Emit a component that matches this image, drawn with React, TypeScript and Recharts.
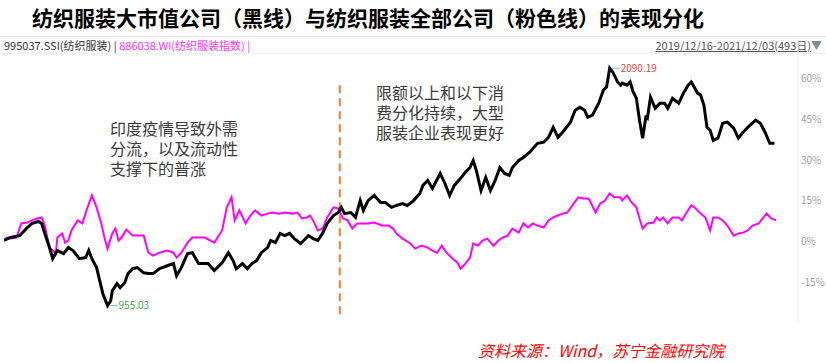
import { LineChart, Line, XAxis, YAxis, ReferenceLine, ReferenceDot } from "recharts";

// textile large caps (black) vs whole textile sector (pink), % change since 2019/12/16
const bigDays = [
  0, 4, 10, 15, 18, 22, 24, 26, 29, 31, 34, 38, 41, 44, 48, 52, 54, 56, 59, 61, 63, 66, 68, 69, 72, 74, 77, 79,
  82, 85, 89, 92, 95, 99, 104, 108, 110, 113, 117, 120, 124, 126, 130, 134, 139, 143, 146, 148, 152, 155, 158,
  161, 164, 168, 170, 173, 176, 179, 182, 185, 189, 191, 194, 197, 200, 203, 206, 210, 213, 215, 217, 221, 224,
  227, 229, 232, 236, 240, 243, 247, 250, 254, 257, 261, 265, 267, 270, 273, 278, 281, 284, 287, 291, 294, 297,
  299, 301, 304, 307, 310, 313, 316, 319, 322, 324, 328, 331, 335, 340, 344, 347, 350, 353, 356, 361, 364, 367,
  370, 372, 375, 379, 382, 384, 386, 388, 391, 393, 394, 397, 399, 401, 403, 405, 407, 409, 410, 412, 415, 418,
  421, 423, 426, 430, 433, 436, 438, 442, 444, 446, 448, 450, 452, 455, 458, 461, 465, 468, 471, 474, 479, 482,
  485, 488, 491,
];
const bigPct = [
  0.4, 1.5, 2.2, 5.2, 6.7, 7.4, 6.7, 3.0, -2.2, -6.3, -3.3, -4.4, -2.2, -3.3, -6.3, -5.9, -3.3, -6.3, -9.6, -14.4,
  -19.2, -23.6, -21.8, -18.1, -15.5, -17.0, -15.1, -11.8, -10.0, -9.6, -11.5, -11.8, -11.8, -10.0, -8.9, -8.1,
  -12.6, -9.6, -4.4, -4.1, -8.1, -8.1, -8.1, -10.7, -7.8, -4.1, -7.0, -10.0, -8.1, -10.0, -8.1, -7.0, -4.1, -2.2,
  0.4, -0.4, 3.0, 2.2, 3.0, 1.1, -0.7, 0.4, 2.2, 1.1, 0.4, 3.0, 6.7, 9.6, 10.7, 12.6, 10.3, 10.7, 8.9, 15.1, 11.5,
  15.1, 17.0, 14.4, 14.4, 12.6, 13.3, 14.0, 13.3, 15.1, 17.7, 20.7, 22.5, 19.6, 25.1, 21.4, 17.0, 20.7, 23.3, 25.5,
  27.3, 29.9, 26.2, 18.8, 23.6, 18.8, 22.5, 27.3, 25.1, 24.4, 27.3, 29.9, 31.0, 32.9, 36.2, 36.6, 38.4, 42.1, 38.4,
  40.3, 44.0, 48.4, 49.5, 48.4, 45.8, 46.6, 51.0, 55.8, 56.9, 63.9, 62.4, 58.8, 57.6, 58.4, 57.6, 58.8, 55.1, 52.8,
  44.7, 38.1, 45.8, 45.4, 53.2, 49.1, 51.0, 51.0, 49.1, 52.8, 51.0, 54.7, 57.6, 58.8, 54.7, 53.9, 50.3, 42.1, 41.0,
  37.3, 38.1, 43.6, 44.0, 41.8, 38.1, 40.3, 42.1, 44.7, 43.6, 40.3, 36.2, 36.2,
];

const allDays = [
  1, 4, 8, 11, 15, 18, 21, 24, 26, 29, 33, 34, 37, 39, 41, 43, 47, 50, 53, 56, 59, 62, 64, 66, 69, 71, 73, 75, 78,
  82, 85, 89, 92, 95, 99, 104, 108, 110, 113, 117, 120, 124, 128, 134, 139, 142, 145, 147, 150, 154, 157, 160, 164,
  168, 171, 175, 179, 184, 187, 190, 193, 195, 197, 200, 203, 206, 210, 213, 216, 219, 222, 225, 228, 232, 236,
  241, 245, 248, 250, 254, 259, 262, 266, 270, 273, 276, 279, 282, 286, 289, 291, 294, 297, 299, 302, 305, 308,
  312, 315, 318, 321, 324, 328, 331, 334, 337, 340, 344, 347, 350, 353, 356, 359, 363, 366, 369, 372, 373, 377,
  380, 383, 386, 389, 393, 394, 397, 400, 403, 405, 407, 410, 414, 416, 418, 420, 423, 426, 430, 432, 435, 438,
  440, 444, 447, 450, 452, 455, 458, 461, 465, 468, 471, 474, 477, 481, 484, 486, 489, 492,
];
const allPct = [
  1.5, 1.1, 1.5, 6.7, 7.0, 7.8, 8.5, 8.9, 5.9, -2.2, -4.4, 1.5, 3.0, -0.4, 0.4, 4.1, 7.8, 6.7, 12.2, 17.0, 12.6,
  6.7, 1.5, -2.6, 3.0, 4.8, 0.4, 1.5, 4.4, 2.2, 2.2, 2.2, -4.1, -5.2, -4.1, -3.3, -4.1, -5.9, -4.1, -0.4, 1.5, 1.5,
  1.5, -0.4, 4.1, 12.6, 16.3, 7.8, 11.5, 6.7, 9.6, 11.5, 9.6, 10.3, 10.7, 10.3, 10.7, 10.3, 10.7, 8.5, 8.9, 9.6,
  7.8, 4.1, 4.8, 8.9, 12.6, 12.2, 8.5, 7.8, 4.8, 6.7, 6.7, 6.7, 7.0, 5.9, 5.9, 4.8, 3.0, 1.1, -0.7, -2.6, -1.5, -2.2,
  -3.3, -4.1, -1.5, -4.1, -6.3, -7.8, -10.0, -8.1, -5.9, -0.7, -1.5, 0.4, 1.1, -1.5, 0.4, 1.5, 2.2, 4.8, 3.3, 6.7,
  5.2, 6.7, 5.9, 5.2, 7.8, 8.9, 9.6, 10.3, 10.7, 14.0, 16.3, 15.9, 15.9, 15.5, 10.7, 14.0, 15.1, 17.7, 16.3, 16.3,
  15.1, 17.0, 14.4, 12.6, 8.5, 4.8, 6.7, 7.0, 8.9, 7.8, 8.9, 6.7, 8.9, 8.9, 7.8, 10.7, 13.3, 12.6, 10.3, 8.9, 4.1,
  8.9, 8.9, 7.8, 5.9, 2.2, 3.0, 3.3, 4.1, 5.9, 6.7, 8.9, 10.3, 8.5, 7.8,
];

const yTicks = [-15, 0, 15, 30, 45, 60];
const shiftDay = 214;
const bigMinText = "955.03";
const bigMaxText = "2090.19";

const titleText = "纺织服装大市值公司（黑线）与纺织服装全部公司（粉色线）的表现分化";
const legendBig = "995037.SSI(纺织服装)";
const legendAll = "886038.WI(纺织服装指数)";
const rangeText = "2019/12/16-2021/12/03(493日)";
const noteLeft = ["印度疫情导致外需", "分流，以及流动性", "支撑下的普涨"];
const noteRight = ["限额以上和以下消", "费分化持续，大型", "服装企业表现更好"];
const sourceText = "资料来源：Wind，苏宁金融研究院";

const font = '"Noto Sans CJK SC", "Noto Sans", sans-serif';

const bigData = bigDays.map((d, i) => ({ day: d, pct: bigPct[i] }));
const allData = allDays.map((d, i) => ({ day: d, pct: allPct[i] }));

const minIdx = bigPct.indexOf(Math.min(...bigPct));
const maxIdx = bigPct.indexOf(Math.max(...bigPct));

const extremeShape = (text: string, color: string) => (p: any) => (
  <g>
    <line x1={p.cx + 2} y1={p.cy} x2={p.cx + 10} y2={p.cy} stroke="#5bc0e0" strokeWidth={1} />
    <text x={p.cx + 11} y={p.cy} dy="0.35em" fontSize={10} fill={color} fontFamily={font}>
      {text}
    </text>
  </g>
);

export default function App() {
  return (
    <div style={{ position: "absolute", left: 0, top: 0, width: 826, height: 363, background: "#fff", fontFamily: font }}>
      <div style={{ position: "absolute", left: 32, top: 3, fontSize: 21, fontWeight: 700, color: "#000", lineHeight: "28px", whiteSpace: "nowrap" }}>
        {titleText}
      </div>
      <div style={{ position: "absolute", left: 0, top: 36, width: 826, height: 1, background: "#ececec" }} />
      <div style={{ position: "absolute", left: 0, top: 53, width: 826, height: 1, background: "#f2f2f2" }} />
      <div style={{ position: "absolute", left: 4, top: 38, fontSize: 11, lineHeight: "15px", whiteSpace: "nowrap" }}>
        <span style={{ color: "#333" }}>{legendBig} | </span>
        <span style={{ color: "#ff33ff" }}>{legendAll} |</span>
      </div>
      <div style={{ position: "absolute", right: 4, top: 38, fontSize: 11, lineHeight: "15px", whiteSpace: "nowrap", color: "#555" }}>
        <span style={{ textDecoration: "underline" }}>{rangeText}</span>
        <span style={{ color: "#888" }}>▼</span>
      </div>

      <div style={{ position: "absolute", left: 0, top: 0 }}>
        <LineChart width={826} height={363} margin={{ top: 38, right: 0, bottom: 40, left: 4 }}>
          <XAxis type="number" dataKey="day" domain={[0, 506]} hide allowDataOverflow />
          <YAxis
            orientation="right"
            type="number"
            domain={[-30, 75]}
            ticks={yTicks}
            width={28}
            tickSize={0}
            tickMargin={3}
            axisLine={{ stroke: "#ececec" }}
            tick={{ fill: "#a0a0a0", fontSize: 10, fontFamily: font }}
            tickFormatter={(v: number) => `${v}%`}
            allowDataOverflow
          />
          <ReferenceLine
            segment={[{ x: shiftDay, y: 57.6 }, { x: shiftDay, y: -28.5 }]}
            stroke="#f08030"
            strokeWidth={2}
            strokeDasharray="8 5"
          />
          <Line data={allData} dataKey="pct" type="linear" stroke="#ff00ff" strokeWidth={2} dot={false} isAnimationActive={false} />
          <Line data={bigData} dataKey="pct" type="linear" stroke="#000" strokeWidth={3} dot={false} isAnimationActive={false} />
          <ReferenceDot x={bigDays[minIdx]} y={bigPct[minIdx]} r={1} shape={extremeShape(bigMinText, "#45a845")} />
          <ReferenceDot x={bigDays[maxIdx]} y={bigPct[maxIdx]} r={1} shape={extremeShape(bigMaxText, "#e8403c")} />
        </LineChart>
      </div>

      <div style={{ position: "absolute", left: 110, top: 118, fontSize: 16, lineHeight: "20px", color: "#3a3a3a" }}>
        {noteLeft.map((t) => (
          <div key={t}>{t}</div>
        ))}
      </div>
      <div style={{ position: "absolute", left: 376, top: 82, fontSize: 16, lineHeight: "20px", color: "#3a3a3a" }}>
        {noteRight.map((t) => (
          <div key={t}>{t}</div>
        ))}
      </div>
      <div style={{ position: "absolute", left: 478, top: 340, fontSize: 16, lineHeight: "20px", color: "#ff0000", fontStyle: "italic", whiteSpace: "nowrap" }}>
        {sourceText}
      </div>
    </div>
  );
}
